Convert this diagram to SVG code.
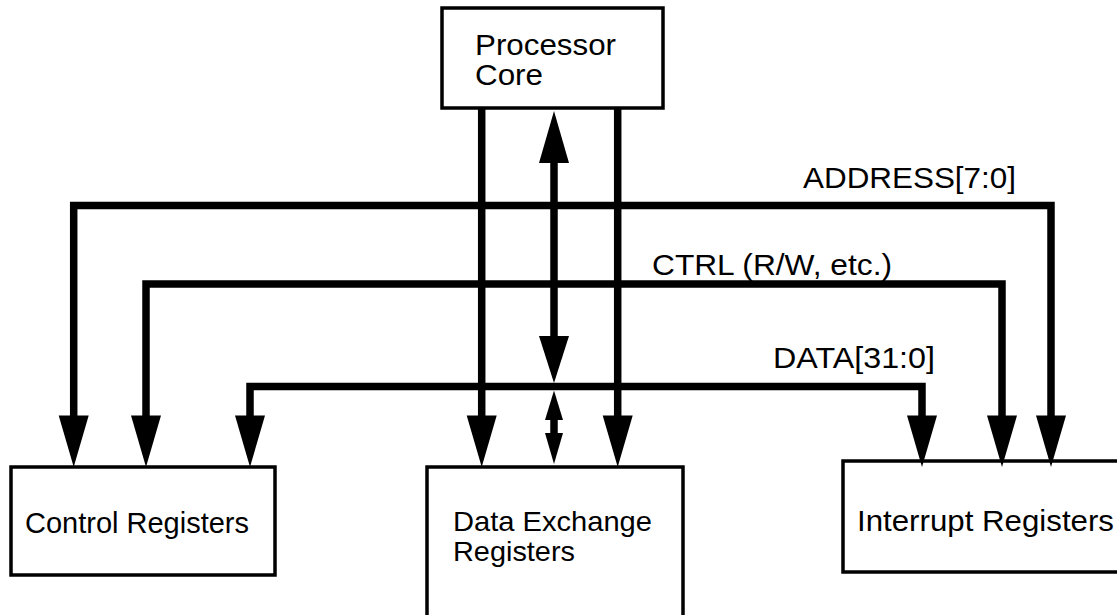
<svg xmlns="http://www.w3.org/2000/svg" width="1117" height="615" viewBox="0 0 1117 615">
<style>
.box{fill:#fff;stroke:#000;stroke-width:3.5}
.bus{fill:none;stroke:#000;stroke-width:7.5;stroke-linejoin:miter;stroke-linecap:butt}
.head{fill:#000;stroke:none}
text{font-family:"Liberation Sans",Arial,sans-serif;font-size:30px;fill:#000}
text.sm{font-size:28px}
</style>
<rect width="1117" height="615" fill="#fff"/>
<g id="processor-core">
<rect class="box" x="442" y="8" width="221" height="100"/>
<text x="475" y="55" textLength="141" lengthAdjust="spacingAndGlyphs">Processor</text>
<text x="475" y="85" textLength="68" lengthAdjust="spacingAndGlyphs">Core</text>
</g>
<g id="control-registers">
<rect class="box" x="11" y="467" width="264" height="108"/>
<text x="25" y="533" textLength="224" lengthAdjust="spacingAndGlyphs">Control Registers</text>
</g>
<g id="data-exchange-registers">
<rect class="box" x="427" y="467" width="256" height="170"/>
<text class="sm" x="453" y="531" textLength="199" lengthAdjust="spacingAndGlyphs">Data Exchange</text>
<text class="sm" x="453" y="561" textLength="122" lengthAdjust="spacingAndGlyphs">Registers</text>
</g>
<g id="interrupt-registers">
<rect class="box" x="843" y="461" width="300" height="111"/>
<text x="857" y="531" textLength="257" lengthAdjust="spacingAndGlyphs">Interrupt Registers</text>
</g>
<g id="connectors">
<path class="bus" d="M73.7 416 V205.5 H1051 V416"/>
<path class="bus" d="M146 416 V284 H1002 V416"/>
<path class="bus" d="M250 416 V386.5 H922 V416"/>
<path class="bus" d="M481.7 108 V416"/>
<path class="bus" d="M617.7 108 V416"/>
<path class="bus" d="M554 160 V340"/>
<path class="bus" d="M554 418 V435"/>
<polygon class="head" points="58.7,415.5 88.7,415.5 73.7,467"/>
<polygon class="head" points="131,415.5 161,415.5 146,467"/>
<polygon class="head" points="235,415.5 265,415.5 250,467"/>
<polygon class="head" points="907,415.5 937,415.5 922,467"/>
<polygon class="head" points="987,415.5 1017,415.5 1002,467"/>
<polygon class="head" points="1036,415.5 1066,415.5 1051,467"/>
<polygon class="head" points="466.7,415.5 496.7,415.5 481.7,467"/>
<polygon class="head" points="602.7,415.5 632.7,415.5 617.7,467"/>
<polygon class="head" points="554,111 539,163 569,163"/>
<polygon class="head" points="539,336 569,336 554,383"/>
<polygon class="head" points="554,390.5 545,420 563,420"/>
<polygon class="head" points="545,433 563,433 554,464"/>
<text x="803" y="188" textLength="213" lengthAdjust="spacingAndGlyphs">ADDRESS[7:0]</text>
<text x="652" y="275" textLength="240" lengthAdjust="spacingAndGlyphs">CTRL (R/W, etc.)</text>
<text x="773" y="368" textLength="162" lengthAdjust="spacingAndGlyphs">DATA[31:0]</text>
</g>
</svg>
